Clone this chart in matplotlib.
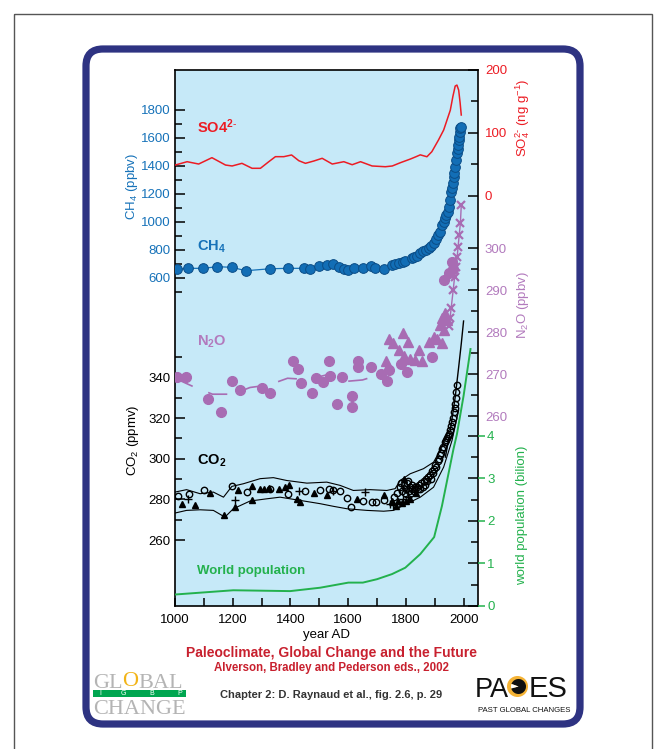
import matplotlib
matplotlib.use("Agg")
import matplotlib.pyplot as plt
from matplotlib.patches import FancyBboxPatch, Rectangle, Circle, Wedge

plt.rcParams['font.family'] = ['Liberation Sans', 'DejaVu Sans']
plt.rcParams['mathtext.fontset'] = 'custom'
plt.rcParams['mathtext.rm'] = 'Liberation Sans'
plt.rcParams['mathtext.it'] = 'Liberation Sans:italic'
plt.rcParams['mathtext.bf'] = 'Liberation Sans:bold'
plt.rcParams['lines.scale_dashes'] = False

# ---------------- data ----------------
so4_year = [1001, 1042, 1082, 1128, 1175, 1198, 1232, 1267, 1296, 1325, 1348, 1377, 1404, 1429, 1452,
            1481, 1510, 1545, 1585, 1614, 1643, 1683, 1729, 1753, 1781, 1816, 1835, 1850, 1873, 1890,
            1913, 1931, 1954, 1963, 1971, 1977, 1983, 1988, 1992]
so4_val = [48.8, 54.1, 50.4, 60.5, 48.8, 47.3, 51.5, 43.6, 43.6, 54.1, 62.1, 62.1, 64.8, 55.7, 51.5,
           55.2, 59.5, 50.4, 54.1, 49.3, 54.1, 47.3, 46.1, 47.3, 52.5, 58.4, 62.0, 65.0, 62.0, 70.0,
           88.6, 104.5, 136.0, 158.0, 174.5, 176.0, 168.0, 148.0, 128.4]

ch4_year = [1008, 1046, 1098, 1147, 1197, 1246, 1330, 1390, 1447, 1468, 1499, 1526, 1547, 1567, 1584,
            1601, 1620, 1651, 1679, 1694, 1723, 1751, 1762, 1775, 1790, 1798, 1820, 1827, 1838, 1850,
            1860, 1870, 1879, 1888, 1896, 1905, 1912, 1917, 1925, 1931, 1936, 1940, 1945, 1950, 1954,
            1958, 1960, 1963, 1966, 1968, 1971, 1974, 1977, 1979, 1981, 1983, 1985, 1987, 1989, 1991]
ch4_val = [662, 669, 669, 681, 676, 652, 666, 669, 669, 662, 686, 693, 700, 681, 662,
           655, 669, 669, 688, 669, 664, 693, 700, 705, 712, 721, 745, 752, 760, 776,
           790, 800, 812, 830, 848, 880, 905, 931, 975, 1002, 1030, 1050, 1074, 1110, 1157,
           1215, 1240, 1276, 1320, 1350, 1395, 1440, 1490, 1520, 1550, 1586, 1610, 1640, 1669, 1680]

n2o_circ_year = [1008, 1037, 1113, 1158, 1199, 1225, 1303, 1330, 1410, 1425, 1437, 1474, 1489, 1512,
                 1535, 1538, 1563, 1580, 1615, 1615, 1633, 1633, 1679, 1714, 1736, 1740, 1783, 1805,
                 1890, 1931, 1950, 1960, 1963]
n2o_circ_val = [269.4, 269.4, 264.0, 260.9, 268.4, 266.3, 266.7, 265.6, 273.1, 271.1, 267.8, 265.6, 269.0,
                268.0, 273.2, 269.6, 262.8, 269.2, 264.8, 262.1, 273.1, 271.7, 271.7, 270.0, 268.3, 271.0,
                272.3, 270.5, 274.1, 292.4, 294.0, 296.8, 295.0]
n2o_tri_year = [1732, 1742, 1757, 1775, 1790, 1792, 1809, 1813, 1832, 1847, 1855, 1879, 1896, 1907,
                1919, 1924, 1925, 1931, 1936, 1942]
n2o_tri_val = [273.1, 278.3, 277.3, 275.7, 279.7, 274.4, 277.7, 273.5, 273.3, 275.7, 273.0, 277.7, 278.9,
               278.4, 281.7, 277.3, 283.3, 280.5, 284.5, 282.9]
n2o_x_year = [1950, 1953, 1957, 1964, 1969, 1974, 1978, 1981, 1985, 1989, 1992]
n2o_x_val = [281.5, 283.3, 285.7, 290.0, 293.2, 295.6, 298.0, 300.4, 303.2, 306.0, 310.2]
n2o_trend_year = [1000, 1070, 1130, 1200, 1260, 1325, 1390, 1460, 1525, 1600, 1650, 1715]
n2o_trend_val = [269.0, 266.8, 265.2, 265.2, 266.8, 267.4, 269.0, 268.7, 269.8, 268.3, 268.6, 270.0]

co2_up_year = [1000, 1040, 1087, 1133, 1168, 1197, 1237, 1295, 1341, 1387, 1457, 1526, 1572, 1618,
               1676, 1734, 1763, 1780, 1815, 1861, 1896, 1925, 1948]
co2_up_val = [283.6, 284.8, 282.8, 283.6, 281.1, 286.4, 287.7, 290.2, 290.7, 289.3, 288.0, 288.5, 286.9,
              284.4, 284.8, 284.4, 285.3, 289.3, 292.6, 295.1, 298.3, 305.7, 313.9]
co2_lo_year = [1000, 1040, 1087, 1133, 1173, 1202, 1260, 1318, 1364, 1434, 1503, 1549, 1596, 1665,
               1723, 1757, 1804, 1850, 1896, 1931, 1960, 1983]
co2_lo_val = [273.3, 274.6, 274.9, 274.6, 271.3, 275.4, 279.2, 280.3, 281.1, 279.5, 277.9, 276.6, 275.4,
              274.6, 274.2, 274.6, 277.9, 281.1, 286.0, 295.9, 309.0, 323.8]
co2_atm_year = [1937, 1954, 1971, 1983, 1992, 2000]
co2_atm_val = [300.8, 313.9, 330.3, 345.0, 356.5, 367.7]

co2_circ_year = [1012, 1050, 1101, 1199, 1249, 1330, 1393, 1451, 1503, 1532, 1549, 1572, 1596, 1609,
                 1651, 1682, 1697, 1723,
                 1760, 1770, 1778, 1783, 1787, 1793, 1797, 1800, 1803, 1808, 1810, 1813, 1817, 1820,
                 1823, 1827, 1830, 1838, 1842, 1846, 1850, 1854, 1858, 1862, 1866, 1870, 1874, 1878,
                 1882, 1886, 1890, 1894, 1898, 1902, 1906, 1910, 1914, 1918, 1922, 1926, 1930, 1934,
                 1938, 1942, 1946, 1950, 1954, 1958, 1961, 1964, 1967, 1969, 1971, 1973, 1975, 1977]
co2_circ_val = [281.5, 282.5, 284.8, 286.4, 283.6, 285.3, 282.5, 283.9, 284.4, 285.3, 284.8, 283.9, 280.8,
                276.2, 279.2, 278.7, 278.7, 279.5,
                281, 283, 286, 288, 284, 287, 283, 285, 288, 289, 284, 286, 283, 285,
                287, 284, 286, 286, 285, 287, 285, 288, 286, 289, 287, 290, 289, 291,
                292, 290, 294, 293, 295, 297, 296, 299, 300, 302, 303, 305, 306, 308,
                309, 310, 311, 312, 314, 316, 318, 320, 323, 325, 327, 330, 333, 336]
co2_tri_year = [1023, 1069, 1121, 1170, 1208, 1220, 1266, 1266, 1295, 1310, 1325, 1360, 1380, 1395,
                1422, 1434, 1480, 1526, 1630, 1723, 1752, 1765, 1772, 1785, 1795, 1800, 1815, 1834]
co2_tri_val = [277.9, 277.1, 283.1, 272.5, 276.2, 284.4, 286.4, 279.9, 285.3, 285.3, 285.6, 285.3, 286.0,
               287.0, 280.3, 278.7, 283.1, 282.0, 280.3, 282.0, 279.0, 277.0, 279.0, 278.0, 290.0, 279.0,
               280.0, 283.0]
co2_plus_year = [1046, 1208, 1428, 1549, 1659, 1746, 1757, 1790, 1806]
co2_plus_val = [280.3, 279.5, 284.1, 283.9, 283.6, 277.9, 277.1, 280.0, 281.0]

pop_year = [1000, 1202, 1399, 1503, 1601, 1651, 1700, 1752, 1798, 1850, 1898, 1925, 1965, 1977, 2000, 2024]
pop_val = [0.27, 0.37, 0.35, 0.43, 0.55, 0.55, 0.63, 0.75, 0.90, 1.22, 1.62, 2.35, 3.69, 4.04, 4.94, 6.04]

x_major = [1000, 1200, 1400, 1600, 1800, 2000]
x_minor = [1100, 1300, 1500, 1700, 1900]
ch4_ticks = [600, 800, 1000, 1200, 1400, 1600, 1800]
ch4_minor = [500, 700, 900, 1100, 1300, 1500, 1700]
co2_ticks = [260, 280, 300, 320, 340]
co2_minor = [270, 290, 310, 330, 350]
so4_ticks = [0, 100, 200]
so4_minor = [50, 150]
n2o_ticks = [260, 270, 280, 290, 300]
n2o_minor = [265, 275, 285, 295]
pop_ticks = [0, 1, 2, 3, 4]
pop_minor = [0.5, 1.5, 2.5, 3.5]

# ---------------- colours ----------------
C_BG = '#c6e9f8'
C_CH4 = '#1672b9'
C_SO4 = '#ec1c24'
C_N2O = '#a86cb3'
C_N2O_T = '#b27abd'
C_POP = '#23b14d'
C_NAVY = '#2e3382'
C_TITLE = '#c8202e'

W, H = 658, 749
fig = plt.figure(figsize=(W / 100, H / 100), dpi=100)
fig.patch.set_facecolor('white')


def P(x, y):
    return (x / W, 1 - y / H)


# background / frame axes in pixel coordinates
bg = fig.add_axes([0, 0, 1, 1], zorder=-1)
bg.set_xlim(0, W)
bg.set_ylim(H, 0)
bg.axis('off')
bg.add_patch(Rectangle((14, 14), 638, 740, fill=False, ec='#555555', lw=1.0))
bg.add_patch(FancyBboxPatch((86, 49), 494, 675, boxstyle="round,pad=0,rounding_size=17",
                            fc='white', ec=C_NAVY, lw=5.2))

# ---------------- main axes ----------------
L, R, T, B = 175, 478, 70, 606
ax = fig.add_axes([L / W, (H - B) / H, (R - L) / W, (B - T) / H])
ax.set_facecolor(C_BG)
ax.set_xlim(1000, 2050)
for s in ax.spines.values():
    s.set_color('black')
    s.set_linewidth(1.2)

tick_kw = dict(direction='in', width=1.1, labelsize=9.5)

# CO2 (base axes, left)
ax.set_ylim(227.6, 491.1)
ax.set_yticks(co2_ticks)
ax.set_yticks(co2_minor, minor=True)
ax.tick_params(axis='y', which='major', length=7, pad=3, left=True, right=False, **tick_kw)
ax.tick_params(axis='y', which='minor', length=5, left=True, right=False, direction='in', width=1.1)
ax.set_xticks(x_major)
ax.set_xticks(x_minor, minor=True)
ax.tick_params(axis='x', which='both', length=6, pad=6, direction='in', width=1.1, labelsize=9.5)
ax.set_xlabel('year AD', fontsize=9.5, labelpad=2)
ax.set_ylabel(r'CO$_2$ (ppmv)', fontsize=9.5, color='black', ha='center', va='center')
ax.yaxis.set_label_coords((133 - L) / (R - L), (B - 440) / (B - T))

ax.plot(co2_up_year, co2_up_val, color='black', lw=0.8)
ax.plot(co2_lo_year, co2_lo_val, color='black', lw=0.8)
ax.plot(co2_atm_year, co2_atm_val, color='black', lw=1.0)
ax.plot(co2_circ_year, co2_circ_val, 'o', ms=4.6, mfc='none', mec='black', mew=1.0)
ax.plot(co2_tri_year, co2_tri_val, '^', ms=4.0, color='black')
ax.plot(co2_plus_year, co2_plus_val, '+', ms=5.5, mew=1.0, color='black')


def twin(side):
    a = ax.twinx()
    for s in a.spines.values():
        s.set_visible(False)
    if side == 'left':
        a.yaxis.tick_left()
        a.yaxis.set_label_position('left')
    else:
        a.yaxis.tick_right()
    a.set_xlim(1000, 2050)
    return a


# CH4 (left)
ax_ch4 = twin('left')
ax_ch4.set_ylim(-1742.9, 2085.7)
ax_ch4.set_yticks(ch4_ticks)
ax_ch4.set_yticks(ch4_minor, minor=True)
ax_ch4.tick_params(axis='y', which='major', length=7, pad=3, labelcolor=C_CH4, left=True, right=False, **tick_kw)
ax_ch4.tick_params(axis='y', which='minor', length=5, left=True, right=False, direction='in', width=1.1)
ax_ch4.set_ylabel(r'CH$_4$ (ppbv)', fontsize=9.5, color=C_CH4, ha='center', va='center')
ax_ch4.yaxis.set_label_coords((132 - L) / (R - L), (B - 186) / (B - T))
ax_ch4.plot(ch4_year, ch4_val, '-', color=C_CH4, lw=0.9)
ax_ch4.plot(ch4_year, ch4_val, 'o', ms=7, mfc='#126eb6', mec='#0b4d87', mew=0.7)

# SO4 (right)
ax_so4 = twin('right')
ax_so4.set_ylim(-652.8, 200)
ax_so4.set_yticks(so4_ticks)
ax_so4.set_yticks(so4_minor, minor=True)
ax_so4.tick_params(axis='y', which='major', length=7, pad=5, labelcolor=C_SO4, right=True, left=False, **tick_kw)
ax_so4.tick_params(axis='y', which='minor', length=5, right=True, left=False, direction='in', width=1.1)
ax_so4.set_ylabel(r'SO$_4^{2\text{-}}$ (ng g$^{-1}$)', fontsize=9.5, color=C_SO4, ha='center', va='center',
                  rotation=90)
ax_so4.yaxis.set_label_coords((523 - L) / (R - L), (B - 118) / (B - T))
ax_so4.plot(so4_year, so4_val, color=C_SO4, lw=1.1, solid_joinstyle='round')

# N2O (right)
ax_n2o = twin('right')
ax_n2o.set_ylim(214.7, 342.5)
ax_n2o.set_yticks(n2o_ticks)
ax_n2o.set_yticks(n2o_minor, minor=True)
ax_n2o.tick_params(axis='y', which='major', length=7, pad=5, labelcolor=C_N2O_T, right=True, left=False, **tick_kw)
ax_n2o.tick_params(axis='y', which='minor', length=5, right=True, left=False, direction='in', width=1.1)
ax_n2o.set_ylabel(r'N$_2$O (ppbv)', fontsize=9.5, color=C_N2O_T, ha='center', va='center', rotation=90)
ax_n2o.yaxis.set_label_coords((523 - L) / (R - L), (B - 305) / (B - T))
ax_n2o.plot(n2o_trend_year, n2o_trend_val, color=C_N2O, lw=1.2, linestyle=(0, (14, 12)))
ax_n2o.plot(n2o_x_year, n2o_x_val, '-', color=C_N2O, lw=1.0)
ax_n2o.plot(n2o_x_year, n2o_x_val, 'x', ms=5.5, mew=1.6, color=C_N2O)
ax_n2o.plot(n2o_circ_year, n2o_circ_val, 'o', ms=7, color=C_N2O, mec=C_N2O)
ax_n2o.plot(n2o_tri_year, n2o_tri_val, '^', ms=7.5, color=C_N2O, mec=C_N2O)

# Population (right)
ax_pop = twin('right')
ax_pop.set_ylim(0, 12.6)
ax_pop.set_yticks(pop_ticks)
ax_pop.set_yticks(pop_minor, minor=True)
ax_pop.tick_params(axis='y', which='major', length=7, right=True, left=False, labelright=False,
                   direction='in', width=1.1)
ax_pop.tick_params(axis='y', which='minor', length=5, right=True, left=False, direction='in', width=1.1)
ax_pop.plot(pop_year, pop_val, color=C_POP, lw=1.4)

ax_pop2 = twin('right')
ax_pop2.set_ylim(0, 12.6)
ax_pop2.set_yticks(pop_ticks)
ax_pop2.set_yticks([], minor=True)
ax_pop2.tick_params(axis='y', which='major', length=5, pad=1.5, direction='out', color=C_POP, width=1.1,
                    labelcolor=C_POP, labelsize=9.5, right=True, left=False)
ax_pop2.set_ylabel('world population (bilion)', fontsize=9.5, color=C_POP, ha='center', va='center',
                   rotation=90)
ax_pop2.yaxis.set_label_coords((522 - L) / (R - L), (B - 515) / (B - T))

# ---------------- series labels ----------------
fig.text(*P(197, 127), r'$\mathbf{SO4^{2\text{-}}}$', color=C_SO4, fontsize=10.5, ha='left', va='center')
fig.text(*P(197, 247), r'$\mathbf{CH_4}$', color=C_CH4, fontsize=10.5, ha='left', va='center')
fig.text(*P(197, 342), r'$\mathbf{N_2O}$', color=C_N2O_T, fontsize=10.5, ha='left', va='center')
fig.text(*P(197, 461), r'$\mathbf{CO_2}$', color='black', fontsize=10.5, ha='left', va='center')
fig.text(*P(197, 571), 'World population', color=C_POP, fontsize=9.5, fontweight='bold', ha='left',
         va='center')

# ---------------- titles ----------------
fig.text(*P(331, 653), 'Paleoclimate, Global Change and the Future', color=C_TITLE, fontsize=10,
         fontweight='bold', ha='center', va='center')
fig.text(*P(331, 667.5), 'Alverson, Bradley and Pederson eds., 2002', color=C_TITLE, fontsize=8.3,
         fontweight='bold', ha='center', va='center')
fig.text(*P(331, 695), 'Chapter 2: D. Raynaud et al., fig. 2.6, p. 29', color='#333333', fontsize=8,
         fontweight='bold', ha='center', va='center')

# ---------------- GLOBAL CHANGE logo ----------------
gray = '#b4b4b4'
bg.text(93, 688.5, 'GL', family='Liberation Serif', fontsize=16, color=gray, ha='left', va='baseline')
bg.text(122.5, 686, 'O', family='Liberation Serif', fontsize=16, color='#f2b418', ha='left', va='baseline')
bg.text(138.5, 688.5, 'BAL', family='Liberation Serif', fontsize=16, color=gray, ha='left', va='baseline')
bg.add_patch(Rectangle((93, 689.5), 93, 7.5, color='#00a650', lw=0))
for xx, ch in zip([100, 123, 152, 180], 'IGBP'):
    bg.text(xx, 693.3, ch, fontsize=5, color='white', ha='center', va='center')
bg.text(93, 714, 'CHANGE', family='Liberation Serif', fontsize=16, color=gray, ha='left', va='baseline')

# ---------------- PAGES logo ----------------
bg.text(475, 697, 'PA', fontsize=19.5, color='#111111', ha='left', va='baseline')
bg.add_patch(Circle((517.5, 686.5), 10.5, color='#f5b335', lw=0))
bg.add_patch(Wedge((518.5, 686.5), 7.5, 200, 165, color='#111111', lw=0))
bg.add_patch(Wedge((518.5, 686.5), 7.5, 165, 200, color='white', lw=0))
bg.text(529, 697, 'ES', fontsize=21, color='#111111', ha='left', va='baseline')
bg.text(524, 711, 'PAST GLOBAL CHANGES', fontsize=5.6, color='#111111', ha='center', va='center')

fig.savefig('out.png', dpi=100, facecolor='white')
